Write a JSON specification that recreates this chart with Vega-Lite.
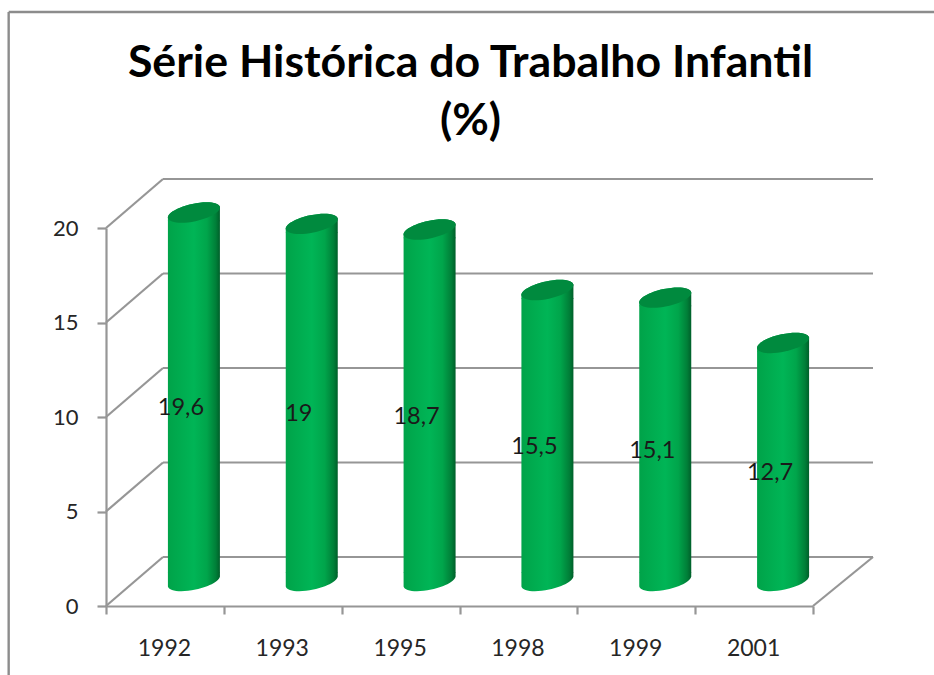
{
"$schema":"https://vega.github.io/schema/vega-lite/v6.json",
"width":707,"height":378,
"autosize":{"type":"none"},
"padding":{"left":106,"top":228,"right":121,"bottom":69},
"background":"white",
"config":{"view":{"stroke":null}},
"title":{"text":["Série Histórica do Trabalho Infantil","(%)"],"font":"Lato","fontWeight":"bold","fontSize":44.7,"lineHeight":58,"color":"#000000","anchor":"middle","baseline":"alphabetic","dx":11,"offset":-169},
"datasets":{
"series":[{"year":"1992","value":19.6,"label":"19,6"},{"year":"1993","value":19,"label":"19"},{"year":"1995","value":18.7,"label":"18,7"},{"year":"1998","value":15.5,"label":"15,5"},{"year":"1999","value":15.1,"label":"15,1"},{"year":"2001","value":12.7,"label":"12,7"}],
"levels":[{"level":0},{"level":5},{"level":10},{"level":15},{"level":20}]
},
"resolve":{"scale":{"x":"independent","y":"independent"},"axis":{"x":"independent","y":"independent"}},
"layer":[
{"data":{"values":[{"edge":"left"}]},"mark":{"type":"rule","stroke":"#8c8c8c","strokeWidth":2.4},
 "encoding":{"x":{"datum":-0.826,"type":"quantitative","scale":{"domain":[0,6],"nice":false,"zero":false},"axis":null},"y":{"datum":31.43,"type":"quantitative","scale":{"domain":[0,20],"nice":false,"zero":false},"axis":null},"y2":{"datum":-3.7}}},
{"data":{"values":[{"edge":"top"}]},"mark":{"type":"rule","stroke":"#8c8c8c","strokeWidth":2.4},
 "encoding":{"x":{"datum":-0.826,"type":"quantitative","scale":{"domain":[0,6],"nice":false,"zero":false},"axis":null},"x2":{"datum":7.03},"y":{"datum":31.43,"type":"quantitative","scale":{"domain":[0,20],"nice":false,"zero":false},"axis":null}}},
{"data":{"name":"levels"},"mark":{"type":"rule","stroke":"#969696","strokeWidth":2.2,"xOffset":57,"x2Offset":60,"yOffset":-49},
 "encoding":{"y":{"field":"level","type":"quantitative","scale":{"domain":[0,20],"nice":false},"axis":{"values":[0,5,10,15,20],"title":null,"grid":false,"domainColor":"#969696","domainWidth":2.2,"tickColor":"#969696","tickWidth":2.2,"tickSize":9,"labelFont":"Lato","labelFontSize":22,"labelColor":"#262626","labelPadding":19}},"x":{"datum":0,"type":"quantitative","scale":{"domain":[0,6],"nice":false,"zero":false},"axis":null},"x2":{"datum":6}}},
{"data":{"name":"levels"},"mark":{"type":"rule","stroke":"#969696","strokeWidth":2.2,"x2Offset":57,"y2Offset":-49},
 "encoding":{"y":{"field":"level","type":"quantitative","scale":{"domain":[0,20],"nice":false},"axis":null},"y2":{"field":"level"},"x":{"datum":0,"type":"quantitative","scale":{"domain":[0,6],"nice":false,"zero":false},"axis":null},"x2":{"datum":0}}},
{"data":{"values":[{"level":0}]},"mark":{"type":"rule","stroke":"#969696","strokeWidth":2.2,"x2Offset":60,"y2Offset":-49},
 "encoding":{"y":{"field":"level","type":"quantitative","scale":{"domain":[0,20],"nice":false},"axis":null},"y2":{"field":"level"},"x":{"datum":6,"type":"quantitative","scale":{"domain":[0,6],"nice":false,"zero":false},"axis":null},"x2":{"datum":6}}},
{"data":{"name":"series"},"mark":{"type":"bar","width":52,"xOffset":29,"yOffset":-15,"y2Offset":-33,"fill":{"x1":0,"y1":0,"x2":1,"y2":0,"gradient":"linear","stops":[{"offset":0,"color":"#00a349"},{"offset":0.5,"color":"#00b556"},{"offset":0.75,"color":"#00a54b"},{"offset":0.92,"color":"#007f38"},{"offset":1,"color":"#005f2a"}]}},
 "encoding":{"x":{"field":"year","type":"nominal","sort":null,"scale":{"paddingInner":0,"paddingOuter":0},"axis":{"title":null,"labelAngle":0,"tickBand":"extent","domainColor":"#969696","domainWidth":2.2,"tickColor":"#969696","tickWidth":2.2,"tickSize":8,"labelFont":"Lato","labelFontSize":23,"labelColor":"#262626","labelPadding":23,"labelOffset":-1}},"y":{"field":"value","type":"quantitative","scale":{"domain":[0,20],"nice":false},"axis":null},"y2":{"datum":0}}},
{"data":{"name":"series"},"mark":{"type":"point","filled":true,"opacity":1,"size":2704,"xOffset":29,"yOffset":-23,"stroke":null,"shape":"M-1,0.21 A1,0.33 -12 0 1 1,-0.21 L1,0.33 L-1,0.33 Z","fill":{"x1":0,"y1":0,"x2":1,"y2":0,"gradient":"linear","stops":[{"offset":0,"color":"#00a349"},{"offset":0.5,"color":"#00b556"},{"offset":0.75,"color":"#00a54b"},{"offset":0.92,"color":"#007f38"},{"offset":1,"color":"#005f2a"}]}},
 "encoding":{"x":{"field":"year","type":"nominal","sort":null,"scale":{"paddingInner":0,"paddingOuter":0},"axis":null},"y":{"field":"value","type":"quantitative","scale":{"domain":[0,20],"nice":false},"axis":null}}},
{"data":{"name":"series"},"mark":{"type":"point","filled":true,"opacity":1,"size":2704,"xOffset":29,"yOffset":-23,"stroke":null,"shape":"M-1,0.21 A1,0.33 -12 0 1 1,-0.21 A1,0.33 -12 0 1 -1,0.21 Z","fill":"#008a3e"},
 "encoding":{"x":{"field":"year","type":"nominal","sort":null,"scale":{"paddingInner":0,"paddingOuter":0},"axis":null},"y":{"field":"value","type":"quantitative","scale":{"domain":[0,20],"nice":false},"axis":null}}},
{"data":{"name":"series"},"mark":{"type":"point","filled":true,"opacity":1,"size":2704,"xOffset":29,"yOffset":-25,"stroke":null,"shape":"M-1,-0.33 L1,-0.33 L1,-0.21 A1,0.33 -12 0 1 -1,0.21 Z","fill":{"x1":0,"y1":0,"x2":1,"y2":0,"gradient":"linear","stops":[{"offset":0,"color":"#00a349"},{"offset":0.5,"color":"#00b556"},{"offset":0.75,"color":"#00a54b"},{"offset":0.92,"color":"#007f38"},{"offset":1,"color":"#005f2a"}]}},
 "encoding":{"x":{"field":"year","type":"nominal","sort":null,"scale":{"paddingInner":0,"paddingOuter":0},"axis":null},"y":{"datum":0,"type":"quantitative","scale":{"domain":[0,20],"nice":false},"axis":null}}},
{"data":{"name":"series"},"mark":{"type":"text","font":"Lato","fontSize":23.5,"color":"#1a1a1a","xOffset":16,"yOffset":-12.5,"baseline":"middle"},
 "encoding":{"x":{"field":"year","type":"nominal","sort":null,"scale":{"paddingInner":0,"paddingOuter":0},"axis":null},"y":{"field":"value","type":"quantitative","scale":{"domain":[0,40],"nice":false},"axis":null},"text":{"field":"label"}}}
]
}
